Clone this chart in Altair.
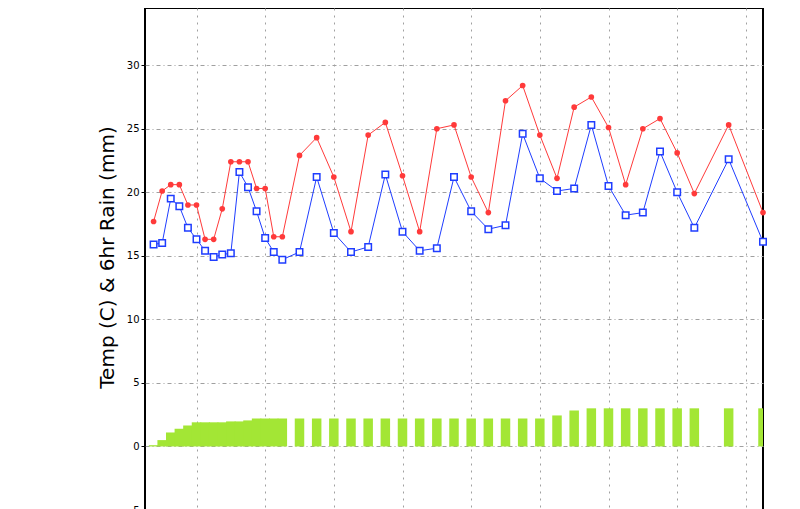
import altair as alt
import pandas as pd

# forecast hours (hour 0 = first vertical gridline)
hours = [
    -15, -12, -9, -6, -3, 0, 3, 6, 9, 12, 15, 18, 21, 24, 27, 30,
    36, 42, 48, 54, 60, 66, 72, 78, 84, 90, 96, 102, 108, 114, 120,
    126, 132, 138, 144, 150, 156, 162, 168, 174,
    186, 198,
]

temp_red = [
    17.7, 20.1, 20.6, 20.6, 19.0, 19.0, 16.3, 16.3, 18.7, 22.4, 22.4, 22.4, 20.3, 20.3, 16.5, 16.5,
    22.9, 24.3, 21.2, 16.9, 24.5, 25.5, 21.3, 16.9, 25.0, 25.3, 21.2, 18.4, 27.2, 28.4, 24.5,
    21.1, 26.7, 27.5, 25.1, 20.6, 25.0, 25.8, 23.1, 19.9,
    25.3, 18.4,
]

temp_blue = [
    15.9, 16.0, 19.5, 18.9, 17.2, 16.3, 15.4, 14.9, 15.1, 15.2, 21.6, 20.4, 18.5, 16.4, 15.3, 14.7,
    15.3, 21.2, 16.8, 15.3, 15.7, 21.4, 16.9, 15.4, 15.6, 21.2, 18.5, 17.1, 17.4, 24.6, 21.1,
    20.1, 20.3, 25.3, 20.5, 18.2, 18.4, 23.2, 20.0, 17.2,
    22.6, 16.1,
]

rain = [
    0.1, 0.5, 1.1, 1.4, 1.65, 1.9, 1.9, 1.9, 1.9, 1.97, 1.97, 2.05, 2.2, 2.2, 2.2, 2.2,
    2.2, 2.2, 2.2, 2.2, 2.2, 2.2, 2.2, 2.2, 2.2, 2.2, 2.2, 2.2, 2.2, 2.2, 2.2,
    2.44, 2.83, 3.0, 3.0, 3.0, 3.0, 3.0, 3.0, 3.0,
    3.0, 3.0,
]

grid_hours = [0, 24, 48, 72, 96, 120, 144, 168, 192]
y_ticks = [-5, 0, 5, 10, 15, 20, 25, 30]

RED = "#ff3a3a"
BLUE = "#1f3dff"
GREEN = "#a3e635"

df = pd.DataFrame({"hour": hours, "red": temp_red, "blue": temp_blue, "rain": rain})

x_scale = alt.Scale(domain=[-18, 198], nice=False, zero=False, padding=0)
x_axis = alt.Axis(
    values=grid_hours, labels=False, ticks=False, domain=False, title=None,
    grid=True, gridDash=[2, 5], gridColor="#a0a0a0", gridWidth=1,
)

y_scale = alt.Scale(domain=[-5, 34.5], nice=False, zero=False, padding=0)
y_axis = alt.Axis(
    values=y_ticks, domain=False, grid=True, gridDash=[4, 3, 1, 3],
    gridColor="#a0a0a0", gridWidth=1,
    tickColor="black", tickSize=4, labelPadding=2,
    labelFont="DejaVu Sans", labelFontSize=10, labelColor="black",
    title="Temp (C) & 6hr Rain (mm)", titleFont="DejaVu Sans", titleFontSize=20,
    titleFontWeight="normal", titleColor="black", titleAngle=270,
    titleX=-32, titleY=249, titleAlign="center", titleBaseline="alphabetic",
)


def xy(field):
    return dict(
        x=alt.X("hour:Q", scale=x_scale, axis=x_axis),
        y=alt.Y(f"{field}:Q", scale=y_scale, axis=y_axis),
    )


base = alt.Chart(df)

bars = base.mark_bar(color=GREEN, size=9.5, clip=True).encode(**xy("rain"))
blue_line = base.mark_line(color=BLUE, strokeWidth=1).encode(**xy("blue"))
red_line = base.mark_line(color=RED, strokeWidth=1).encode(**xy("red"))
blue_pts = base.mark_point(
    shape="square", size=42, filled=True, fill="white", stroke=BLUE,
    strokeWidth=1.5, opacity=1,
).encode(**xy("blue"))
red_pts = base.mark_circle(color=RED, size=32, opacity=1).encode(**xy("red"))

chart = (
    alt.layer(bars, blue_line, red_line, blue_pts, red_pts)
    .properties(
        width=618,
        height=502,
        autosize=alt.AutoSizeParams(type="none"),
        padding={"left": 137, "top": 0, "right": 29, "bottom": 30},
    )
    .configure_view(stroke="black", strokeWidth=2)
)

chart.save("out.html", embed_options={"renderer": "svg", "actions": False})
